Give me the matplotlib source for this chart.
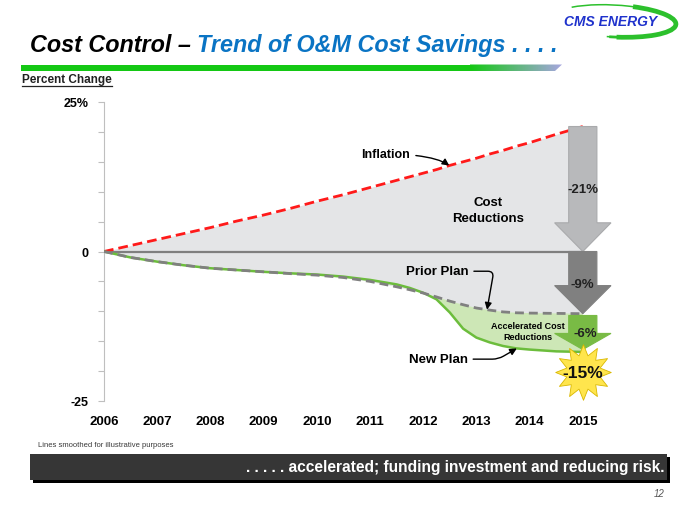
import matplotlib
matplotlib.use('Agg')
import matplotlib.pyplot as plt
import numpy as np
from matplotlib.patches import Rectangle, Polygon, FancyArrow, Arc
from matplotlib.path import Path

plt.rcParams['font.family'] = ['Liberation Sans', 'DejaVu Sans']

# valores (meio-ano, trimestres na queda de 2012-2014)
anos = [2006, 2006.5, 2007, 2007.5, 2008, 2008.5, 2009, 2009.5, 2010, 2010.5,
        2011, 2011.5, 2011.75, 2012, 2012.25, 2012.5, 2012.75, 2013, 2013.25,
        2013.5, 2013.75, 2014, 2014.5, 2015]
inflacao = [0.0, 1.0, 2.0, 3.0, 4.0, 5.1, 6.1, 7.2, 8.4, 9.5,
            10.7, 11.9, 12.5, 13.1, 13.7, 14.4, 15.0, 15.6, 16.3,
            16.9, 17.6, 18.2, 19.6, 20.9]
plano_anterior = [0.0, -1.0, -1.7, -2.3, -2.8, -3.1, -3.4, -3.7, -3.95, -4.35,
                  -5.0, -5.9, -6.4, -6.95, -7.6, -8.3, -8.9, -9.45, -9.8,
                  -10.1, -10.25, -10.3, -10.35, -10.4]
plano_novo = [0.0, -1.0, -1.7, -2.3, -2.8, -3.1, -3.4, -3.65, -3.85, -4.2,
              -4.75, -5.5, -6.1, -6.9, -8.0, -10.2, -12.9, -14.4, -15.2,
              -15.8, -16.2, -16.4, -16.7, -16.8]

rotulos_anos = [2006, 2007, 2008, 2009, 2010, 2011, 2012, 2013, 2014, 2015]
y_ticks = [-25, -20, -15, -10, -5, 0, 5, 10, 15, 20, 25]
y_rotulos = ['-25', '', '', '', '', '0', '', '', '', '', '25%']
rotulos_setas = ['-21%', '-9%', '-6%']
rotulo_total = '-15%'

W, H = 680, 510
fig = plt.figure(figsize=(W / 100, H / 100), dpi=100)

# camada de fundo em pixels para titulo, logo e faixa
bg = fig.add_axes([0, 0, 1, 1])
bg.set_xlim(0, W)
bg.set_ylim(H, 0)
bg.axis('off')


def seta_vertical(ax, x, y0, y1, cor, largura, cabeca_larg, cabeca_comp, borda=None):
    """Desenha uma seta grossa vertical de y0 ate y1."""
    seta = FancyArrow(x, y0, 0, y1 - y0, width=largura, head_width=cabeca_larg,
                      head_length=cabeca_comp, length_includes_head=True,
                      facecolor=cor, edgecolor=borda if borda else cor,
                      linewidth=0.8, zorder=5)
    ax.add_patch(seta)


def ajustar_largura(textos, largura_px):
    """Ajusta o tamanho da fonte para que os textos ocupem largura_px."""
    fig.canvas.draw()
    r = fig.canvas.get_renderer()
    atual = sum(t.get_window_extent(r).width for t in textos)
    for t in textos:
        t.set_fontsize(t.get_fontsize() * largura_px / atual)


# ---- titulo ----
t1 = bg.text(30, 57, 'Cost Control \u2013 ', fontsize=22, fontweight='bold',
             fontstyle='italic', color='black', va='bottom', ha='left')
t2 = bg.annotate('Trend of O&M Cost Savings . . . .', xy=(1, 0), xycoords=t1,
                 fontsize=22, fontweight='bold', fontstyle='italic',
                 color='#0a74c4', va='bottom', ha='left')
ajustar_largura([t1, t2], 528)

# barra verde com degrade
bg.add_patch(Rectangle((21, 65.5), 450, 6.5, facecolor='#14c814', edgecolor='none'))
grad = np.linspace(0, 1, 64).reshape(1, -1)
c0 = np.array([0x14, 0xc8, 0x14]) / 255
c1 = np.array([0xa6, 0xa6, 0xde]) / 255
img = (c0[None, None, :] * (1 - grad[..., None]) + c1[None, None, :] * grad[..., None])
im = bg.imshow(img, extent=[470, 562, 72, 65.5], aspect='auto', interpolation='bilinear')
clip = Polygon([[470, 65.5], [562, 65.5], [555, 72], [470, 72]], closed=True,
               transform=bg.transData, facecolor='none', edgecolor='none')
bg.add_patch(clip)
im.set_clip_path(clip)

# logo (arco verde aberto a esquerda)
centro = (614, 22)
bg.add_patch(Arc(centro, 124, 32, angle=3, theta1=-165, theta2=112,
                 edgecolor='#2cc02c', lw=1.1))
bg.add_patch(Arc(centro, 124, 32, angle=3, theta1=-40, theta2=78,
                 edgecolor='#2cc02c', lw=3.4))
bg.add_patch(Arc(centro, 124, 32, angle=3, theta1=74, theta2=104,
                 edgecolor='#2cc02c', lw=2.0))
bg.text(611, 22.5, 'CMS ENERGY', fontsize=10, fontweight='bold', fontstyle='italic',
        color='#1f32cc', ha='center', va='center')

# rotulo do eixo y sublinhado
pc = bg.text(22, 80, 'Percent Change', fontsize=8.5, fontweight='bold',
             ha='left', va='center', color='#222222')
fig.canvas.draw()
bb = pc.get_window_extent(fig.canvas.get_renderer())
bg.plot([22, 22 + bb.width], [86.5, 86.5], color='#222222', lw=0.9)

# ---- grafico principal ----
ax = fig.add_axes([104 / W, 1 - 402 / H, (636 - 104) / W, (402 - 103) / H])
ax.set_facecolor('none')
ax.set_xlim(2006, 2016)
ax.set_ylim(-25, 25)

x = np.array(anos)
inf = np.array(inflacao)
ant = np.array(plano_anterior)
nov = np.array(plano_novo)

ax.fill_between(x, inf, ant, color='#e4e5e7', lw=0, zorder=1)
ax.fill_between(x, ant, nov, where=nov <= ant, interpolate=True,
                color='#cde7b6', lw=0, zorder=1)
ax.plot([x[0], x[-1]], [0, 0], color='#7f7f7f', lw=1.6, zorder=2)
ax.plot(x, inf, color='#ff1a1a', lw=2.0, dashes=(3.5, 1.8), zorder=3)
ax.plot(x, nov, color='#6cbd3c', lw=1.8, zorder=3)
ax.plot(x, ant, color='#808080', lw=2.0, dashes=(3.2, 1.8), zorder=3)

# setas de reducao em 2015
xf = x[-1]
seta_vertical(ax, xf, inf[-1], 0, '#b8b9bb', 0.53, 1.06, 4.8, borda='#a9aaac')
seta_vertical(ax, xf, 0, ant[-1], '#808080', 0.53, 1.06, 4.7)
seta_vertical(ax, xf, ant[-1] - 0.3, nov[-1] + 0.4, '#79bb45', 0.53, 1.06, 2.7)

ax.text(xf, 10.5, rotulos_setas[0], fontsize=9.5, fontweight='bold', ha='center',
        va='center', color='#222222', zorder=7)
ax.text(xf, -5.5, rotulos_setas[1], fontsize=9.5, fontweight='bold', ha='center',
        va='center', color='#222222', zorder=7)
ax.text(xf + 0.05, -13.6, rotulos_setas[2], fontsize=9.5, fontweight='bold', ha='center',
        va='center', color='#222222', zorder=7)

estrela = Path.unit_regular_star(12, innerCircle=0.62)
ax.plot([xf], [-20.2], marker=estrela, markersize=40, color='#ffe54d',
        markeredgecolor='#d9b800', markeredgewidth=0.6, zorder=6, clip_on=False)
ax.text(xf, -20.2, rotulo_total, fontsize=12.5, fontweight='bold', ha='center',
        va='center', color='#111111', zorder=7)

# textos e setas finas
seta = dict(arrowstyle='-|>', color='black', lw=1.0, shrinkA=2, shrinkB=0,
            mutation_scale=10)
ax.annotate('Inflation', xy=(2012.49, np.interp(2012.49, x, inf)), xytext=(2011.3, 16.3),
            fontsize=9, fontweight='bold', ha='center', va='center', zorder=7,
            arrowprops=dict(seta, connectionstyle='angle3,angleA=0,angleB=-35'))
ax.text(2013.22, 6.9, 'Cost\nReductions', fontsize=9.5, fontweight='bold', ha='center',
        va='center', linespacing=1.45, zorder=7)
ax.annotate('Prior Plan', xy=(2013.2, np.interp(2013.2, x, ant)), xytext=(2012.26, -3.3),
            fontsize=9.5, fontweight='bold', ha='center', va='center', zorder=7,
            arrowprops=dict(seta, connectionstyle='angle,angleA=0,angleB=80,rad=6'))
ax.text(2013.97, -13.3, 'Accelerated Cost\nReductions', fontsize=6.5, fontweight='bold',
        ha='center', va='center', linespacing=1.2, zorder=7)
ax.annotate('New Plan', xy=(2013.76, np.interp(2013.76, x, nov)), xytext=(2012.28, -18.0),
            fontsize=9.5, fontweight='bold', ha='center', va='center', zorder=7,
            arrowprops=dict(seta, connectionstyle='angle,angleA=0,angleB=30,rad=6'))

# eixos
for lado in ['top', 'right', 'bottom']:
    ax.spines[lado].set_visible(False)
ax.spines['left'].set_color('#bfbfbf')
ax.set_yticks(y_ticks)
ax.set_yticklabels(y_rotulos, fontsize=9, fontweight='bold')
ax.tick_params(axis='y', length=4, width=0.8, color='#bfbfbf', pad=7)
ax.set_xticks(rotulos_anos)
ax.set_xticklabels([str(a) for a in rotulos_anos], fontsize=9.5, fontweight='bold')
ax.tick_params(axis='x', length=0, pad=10)

# rodape
bg.text(38, 446, 'Lines smoothed for illustrative purposes', fontsize=5.5,
        color='#3a3a3a', ha='left', va='center')
bg.add_patch(Rectangle((33, 458), 637, 26, facecolor='black', edgecolor='none'))
bg.add_patch(Rectangle((30, 455), 637, 26, facecolor='#363636', edgecolor='none'))
faixa = bg.text(664, 468, '. . . . . accelerated; funding investment and reducing risk.',
                fontsize=13, fontweight='bold', color='white', ha='right', va='center')
ajustar_largura([faixa], 420)
bg.text(664, 494, '12', fontsize=7, fontstyle='italic', color='#555555',
        ha='right', va='center')

fig.savefig('out.png', dpi=100)
